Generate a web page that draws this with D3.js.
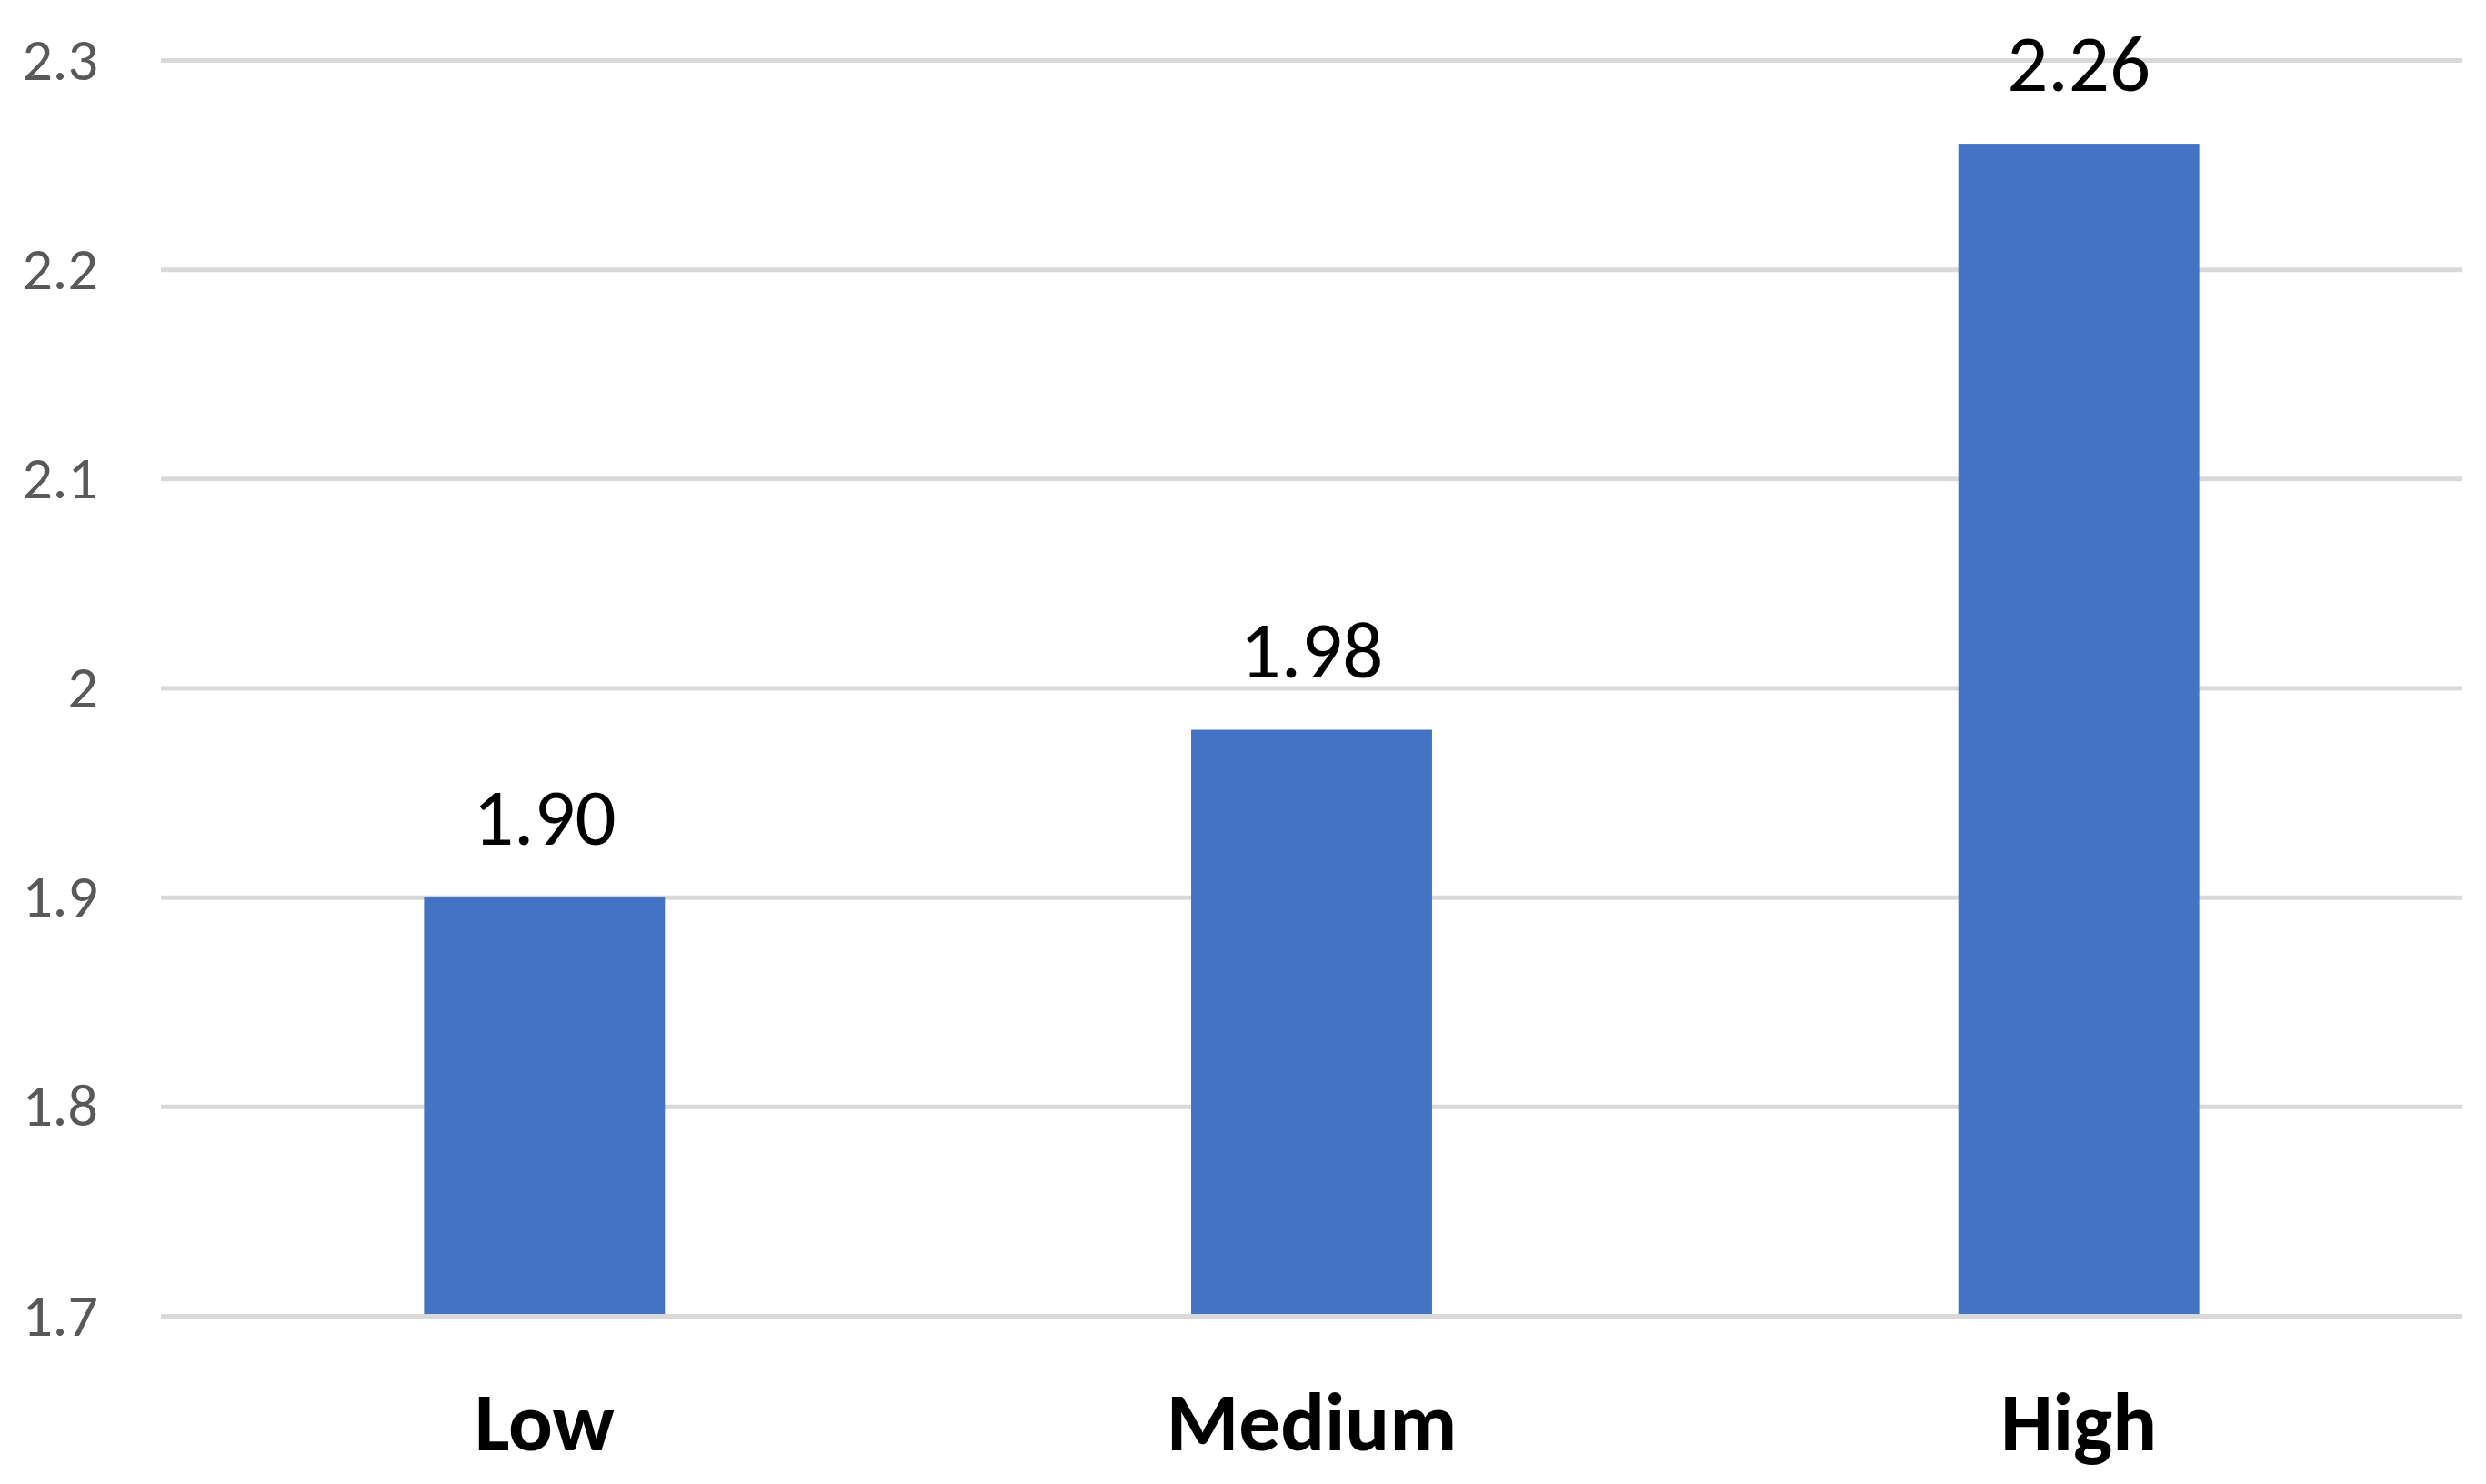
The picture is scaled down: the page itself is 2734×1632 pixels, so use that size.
<!DOCTYPE html>
<html>
<head>
<meta charset="utf-8">
<script src="https://cdn.jsdelivr.net/npm/d3@7"></script>
<style>
  body { margin: 0; background: #fff; }
  text { font-family: Carlito, Calibri, Lato, "Open Sans", sans-serif; }
</style>
</head>
<body>
<div id="chart"></div>
<script>
// data
var categories = ["Low", "Medium", "High"];
var values = [1.90, 1.98, 2.26];
var yTicks = [1.7, 1.8, 1.9, 2.0, 2.1, 2.2, 2.3];

// set the dimensions and margins of the graph
var margin = {top: 66, right: 26, bottom: 185, left: 177},
    width = 2734 - (margin.left + margin.right),
    height = 1632 - (margin.top + margin.bottom);

var svg = d3.select("#chart")
  .append("svg")
    .attr("width", width + margin.left + margin.right)
    .attr("height", height + margin.top + margin.bottom)
  .append("g")
    .attr("transform", "translate(" + margin.left + "," + margin.top + ")");

var x = d3.scaleBand()
  .domain(categories)
  .range([0, width])
  .paddingInner(0.686)
  .paddingOuter(0.343);

var y = d3.scaleLinear()
  .domain([1.7, 2.3])
  .range([height, 0]);

// gridlines + y labels
var yAxis = svg.append("g")
  .call(d3.axisLeft(y)
    .tickValues(yTicks)
    .tickSize(-width)
    .tickPadding(69)
    .tickFormat(function(d) { return String(+d.toFixed(1)); }));
yAxis.select(".domain").remove();
yAxis.selectAll(".tick line")
  .attr("stroke", "#d9d9d9")
  .attr("stroke-width", 5);
yAxis.selectAll(".tick text")
  .attr("fill", "#595959")
  .style("font-size", "66px");

// bars
svg.selectAll(".bar")
  .data(values)
  .enter()
  .append("rect")
    .attr("class", "bar")
    .attr("x", function(d, i) { return x(categories[i]); })
    .attr("width", x.bandwidth())
    .attr("y", function(d) { return y(d); })
    .attr("height", function(d) { return height - y(d) - 2; })
    .attr("fill", "#4472c4");

// value labels
svg.selectAll(".val")
  .data(values)
  .enter()
  .append("text")
    .attr("class", "val")
    .attr("x", function(d, i) { return x(categories[i]) + x.bandwidth() / 2; })
    .attr("y", function(d) { return y(d) - 58; })
    .attr("text-anchor", "middle")
    .style("font-size", "89px")
    .attr("fill", "#000")
    .text(function(d) { return d.toFixed(2); });

// category labels
svg.selectAll(".cat")
  .data(categories)
  .enter()
  .append("text")
    .attr("class", "cat")
    .attr("x", function(d) { return x(d) + x.bandwidth() / 2; })
    .attr("y", height + 148)
    .attr("text-anchor", "middle")
    .style("font-size", "91px")
    .style("font-weight", "bold")
    .attr("fill", "#000")
    .text(function(d) { return d; });
</script>
</body>
</html>
